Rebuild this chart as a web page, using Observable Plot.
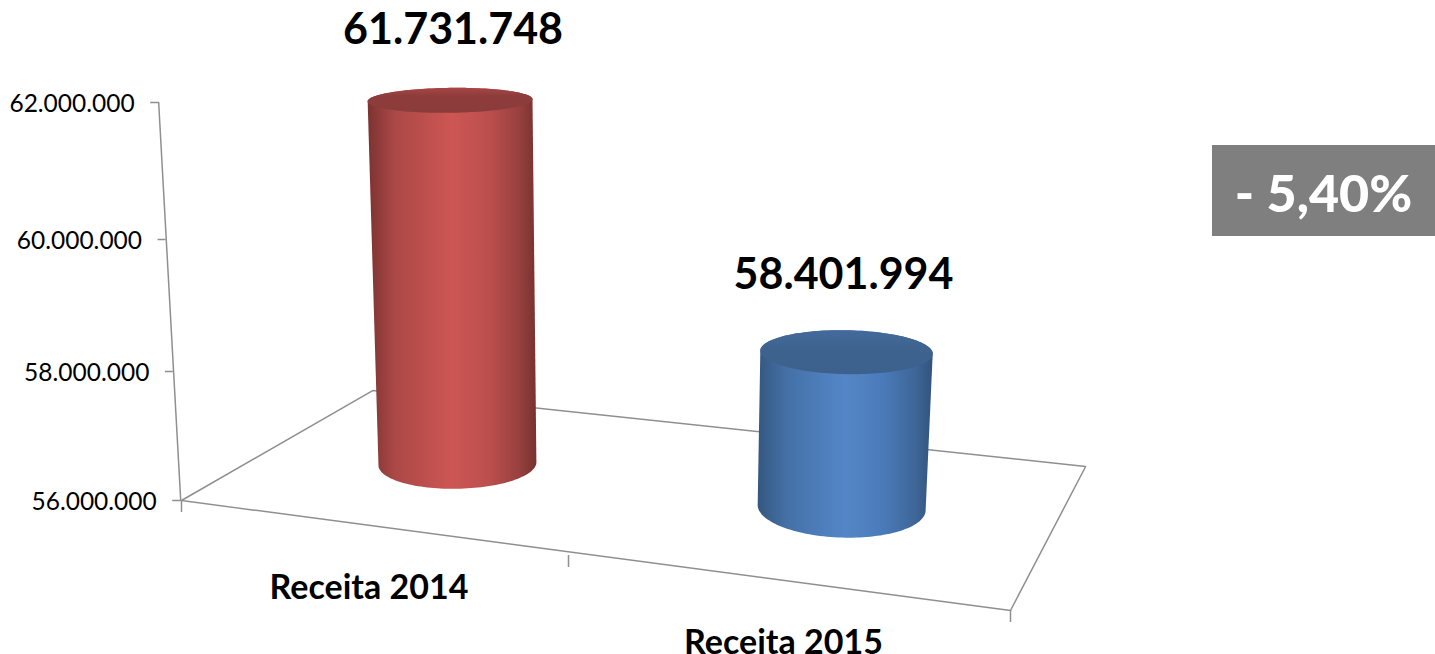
<!DOCTYPE html>
<html lang="pt-BR">
<head>
<meta charset="utf-8">
<script src="https://cdn.jsdelivr.net/npm/d3@7"></script>
<script src="https://cdn.jsdelivr.net/npm/@observablehq/plot@0.6"></script>
<style>
  html, body { margin: 0; background: #fff; }
  #chart { position: relative; width: 1435px; height: 654px; overflow: hidden; font-family: Lato, sans-serif; }
  #chart svg { display: block; }
  #delta { position: absolute; left: 1212px; top: 145px; width: 223px; height: 91px; line-height: 95px;
           background: #7f7f7f; color: #fff; font-weight: 900; font-size: 52px; text-align: center; }
</style>
</head>
<body>
<div id="chart"><div id="delta"></div></div>
<script>
// ---- chart values ----
const categories = ["Receita 2014", "Receita 2015"];
const values = [61731748, 58401994];
const valueLabels = ["61.731.748", "58.401.994"];
const yTicks = [56000000, 58000000, 60000000, 62000000];
const yTickLabels = ["56.000.000", "58.000.000", "60.000.000", "62.000.000"];
const deltaLabel = "- 5,40%";

// ---- pseudo-3D geometry in scale units (x: category slots, y: value level) ----
const slotTicks = [0, 1, 2];
const categorySlots = [0.5, 1.5];
const floorFrontLevel = s => 56e6 - (s / 2) * 1.705e6;   // front edge drops with perspective
const wallSlot = v => -0.002 - ((v - 56e6) / 6e6) * 0.057; // the wall axis leans left
const floorCorners = [
  {s: 0, v: 56e6},
  {s: 0.494, v: 57.705e6},
  {s: 2.17, v: 56.527e6},
  {s: 2, v: 54.295e6},
  {s: 0, v: 56e6}
];
const cylinders = [
  {base: {s: 0.713, v: 56.57e6, rs: 0.204, rv: 0.388e6, tilt: 0.023e6},
   top:  {s: 0.694, lift: 0.30e6, rs: 0.213, rv: 0.182e6, tilt: 0.015e6},
   body: "bodyRed", cap: "capRed", labelDx: 3, labelDy: -70},
  {base: {s: 1.618, v: 55.89e6, rs: 0.190, rv: 0.465e6, tilt: -0.04e6},
   top:  {s: 1.629, lift: -0.11e6, rs: 0.195, rv: 0.333e6, tilt: -0.023e6},
   body: "bodyBlue", cap: "capBlue", labelDx: -3, labelDy: -77}
];
const gradients = [
  {id: "bodyRed", x2: 1, y2: 0, stops: [[0, "#7c3331"], [0.16, "#ab4846"], [0.5, "#cd5654"], [0.72, "#bb4f4d"], [0.9, "#97403e"], [1, "#763230"]]},
  {id: "bodyBlue", x2: 1, y2: 0, stops: [[0, "#345780"], [0.16, "#4470a6"], [0.5, "#5486c7"], [0.72, "#4a7ab8"], [0.9, "#3e6698"], [1, "#32537c"]]},
  {id: "capRed", x2: 0, y2: 1, stops: [[0, "#a84644"], [0.3, "#8f3d3c"], [1, "#8a3b3a"]]},
  {id: "capBlue", x2: 0, y2: 1, stops: [[0, "#436a9b"], [0.4, "#3e638f"], [1, "#3d618d"]]}
];

const topLevel = (c, i) => values[i] + c.top.lift;
const ellipsePoint = (e, level, t) => ({
  s: e.s + e.rs * Math.cos(t),
  v: level + e.rv * Math.sin(t) + e.tilt * Math.cos(t)
});
const steps = d3.range(0, 73).map(k => (k / 72) * Math.PI);
const bodyOutline = (c, i) => [
  ...steps.map(t => ellipsePoint(c.base, c.base.v, Math.PI + t)),
  ...steps.map(t => ellipsePoint(c.top, topLevel(c, i), t))
];
const capOutline = (c, i) => [
  ...steps.map(t => ellipsePoint(c.top, topLevel(c, i), t)),
  ...steps.map(t => ellipsePoint(c.top, topLevel(c, i), Math.PI + t))
];

const defs = () => {
  const d = d3.create("svg:defs");
  for (const g of gradients) {
    const lg = d.append("linearGradient").attr("id", g.id)
      .attr("x1", 0).attr("y1", 0).attr("x2", g.x2).attr("y2", g.y2);
    for (const [o, col] of g.stops) lg.append("stop").attr("offset", o).attr("stop-color", col);
  }
  return d.node();
};

const grey = "#8f8f8f";
const fmtY = v => yTickLabels[yTicks.indexOf(v)];

const plot = Plot.plot({
  width: 1435,
  height: 654,
  margin: 0,
  style: {fontFamily: "Lato, sans-serif", background: "transparent", overflow: "visible"},
  x: {type: "linear", domain: slotTicks, range: [181, 568, 1010], label: null},
  y: {type: "linear", domain: yTicks, range: [500, 371, 239, 102], label: null},
  marks: [
    defs,
    // floor and leaning wall axis
    Plot.line(floorCorners, {x: "s", y: "v", stroke: grey, strokeWidth: 1.5}),
    Plot.line([56e6, 62e6], {x: wallSlot, y: d => d, stroke: grey, strokeWidth: 1.5}),
    Plot.axisY(yTicks, {
      x: wallSlot, anchor: "left", tickSize: 8, label: null,
      stroke: grey, strokeWidth: 1.5, fill: "none"
    }),
    Plot.axisY(yTicks, {
      x: wallSlot, anchor: "left", tickSize: 0, tickPadding: 24, label: null,
      tickFormat: fmtY, fill: "#000", fontSize: 24.5, dy: 2
    }),
    Plot.axisX(slotTicks, {
      y: s => floorFrontLevel(s), anchor: "bottom", tickSize: 12, label: null,
      stroke: grey, strokeWidth: 1.5, fill: "none"
    }),
    Plot.text(categorySlots, {
      x: d => d, y: d => floorFrontLevel(d), text: (d, i) => categories[i],
      dx: -6, dy: 60, fontSize: 34, fontWeight: 700, fill: "#000"
    }),
    // cylinders
    ...cylinders.flatMap((c, i) => [
      Plot.line(bodyOutline(c, i), {x: "s", y: "v", fill: `url(#${c.body})`, stroke: "none"}),
      Plot.line(capOutline(c, i), {x: "s", y: "v", fill: `url(#${c.cap})`, stroke: "none"}),
      Plot.text([i], {
        x: () => c.top.s, y: () => topLevel(c, i), text: () => valueLabels[i],
        dx: c.labelDx, dy: c.labelDy, fontSize: 43, fontWeight: 700, fill: "#000"
      })
    ])
  ]
});

const chart = document.getElementById("chart");
chart.insertBefore(plot, chart.firstChild);
document.getElementById("delta").textContent = deltaLabel;
</script>
</body>
</html>
